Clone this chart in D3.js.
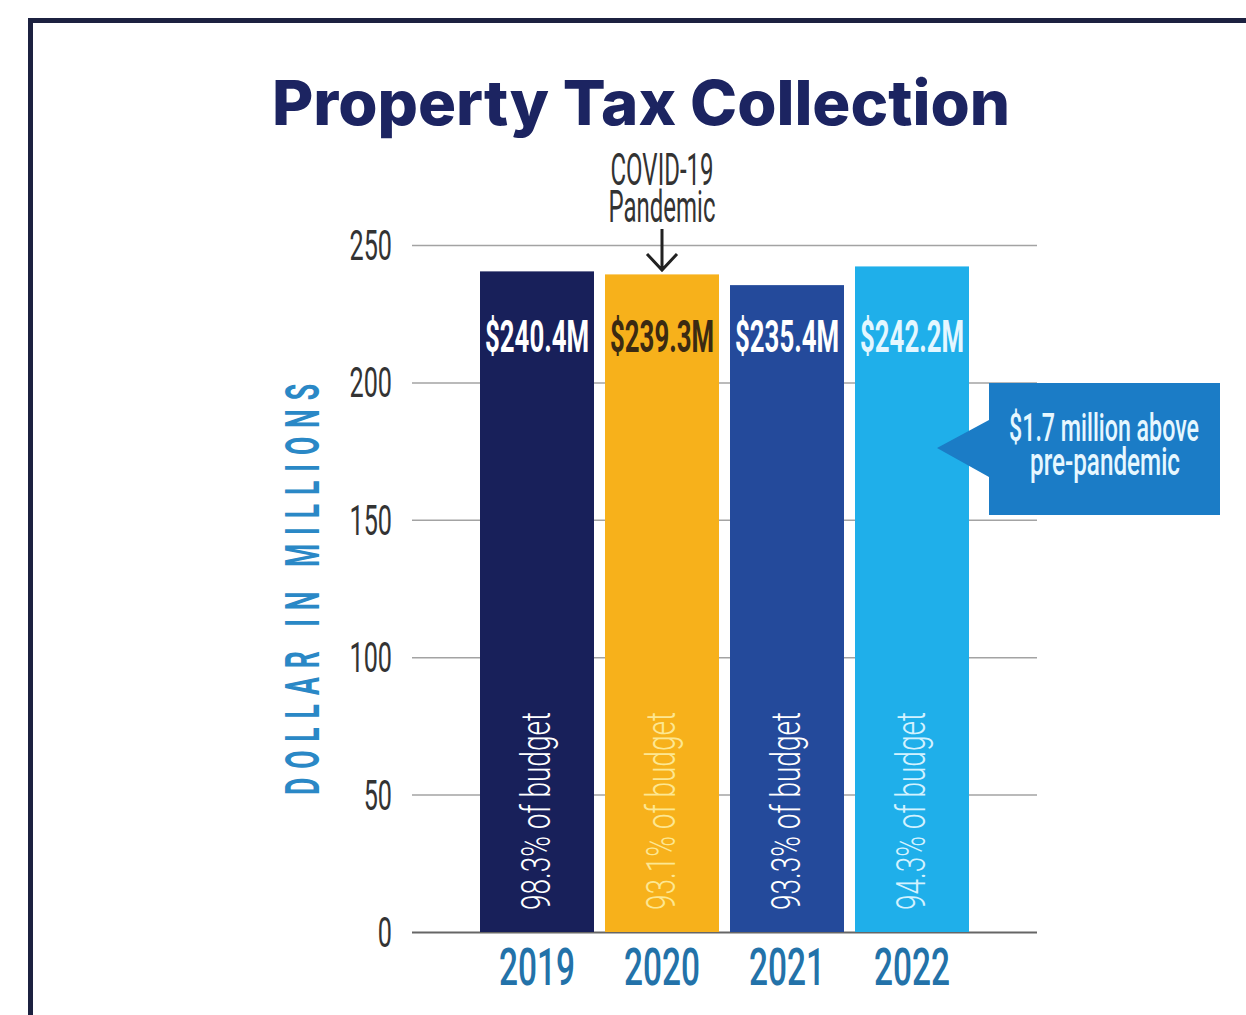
<!DOCTYPE html>
<html>
<head>
<meta charset="utf-8">
<script src="https://cdn.jsdelivr.net/npm/d3@7"></script>
<style>
  html, body { margin: 0; padding: 0; background: #ffffff; }
  svg { display: block; }
</style>
</head>
<body>
<svg id="chart" width="1246" height="1015"></svg>
<script>
// ---- data ----
const years = ["2019", "2020", "2021", "2022"];
const values = [240.4, 239.3, 235.4, 242.2];
const valueLabels = ["$240.4M", "$239.3M", "$235.4M", "$242.2M"];
const budgetLabels = ["98.3% of budget", "93.1% of budget", "93.3% of budget", "94.3% of budget"];
const tickValues = [0, 50, 100, 150, 200, 250];
const tickLabels = ["0", "50", "100", "150", "200", "250"];
const titleText = "Property Tax Collection";
const yAxisTitle = "DOLLAR IN MILLIONS";
const covidNote = ["COVID-19", "Pandemic"];
const calloutText = ["$1.7 million above", "pre-pandemic"];

// ---- styles ----
const barColors = ["#18205a", "#f7b11b", "#244a9b", "#1fafea"];
const valueLabelColors = ["#ffffff", "#3b2a12", "#ffffff", "#e4f7ff"];
const budgetLabelColors = ["#ffffff", "#fde792", "#ffffff", "#d3f2ff"];

const svg = d3.select("#chart");
const FONT = "Roboto, 'DejaVu Sans', sans-serif";

// text fitted to a target width by horizontal scaling
function fitText(parent, px, py, str, width, opts) {
  const g = parent.append("g")
    .attr("transform", `translate(${px},${py})` + (opts.rotate ? ` rotate(${opts.rotate})` : ""));
  const t = g.append("text")
    .attr("text-anchor", opts.anchor || "middle")
    .attr("font-family", opts.family || FONT)
    .attr("font-weight", opts.weight || 400)
    .attr("font-size", opts.size)
    .attr("fill", opts.fill)
    .text(str);
  if (opts.ls) t.attr("letter-spacing", opts.ls);
  const natural = t.node().getComputedTextLength();
  const sx = width ? width / natural : (opts.sx || 1);
  t.attr("transform", `scale(${sx},1)`);
  return t;
}

// frame
svg.append("path")
  .attr("d", "M30.5,1015 L30.5,20.5 L1246,20.5")
  .attr("fill", "none").attr("stroke", "#1c2140").attr("stroke-width", 5);

// title
fitText(svg, 272, 125, titleText, 738, {
  anchor: "start", family: "Inter, 'Open Sans', sans-serif", weight: 800, size: 62, fill: "#1c2461"
});

// scales
const y = d3.scaleLinear().domain([0, 250]).range([932, 245]);
const x = d3.scaleBand().domain(years).range([474.5, 974.5])
  .paddingInner(0.088).paddingOuter(0.044);

// gridlines via axis
const grid = svg.append("g").attr("transform", "translate(412,0)")
  .call(d3.axisLeft(y).tickValues(tickValues).tickSize(-(1037 - 412)).tickFormat(""));
grid.select(".domain").remove();
grid.selectAll(".tick line")
  .attr("stroke", d => d === 0 ? "#666666" : "#a3a3a3")
  .attr("stroke-width", d => d === 0 ? 2 : 1.5);

// tick labels
tickValues.forEach((v, i) => {
  fitText(svg, 392, y(v) + 15, tickLabels[i], null, { anchor: "end", size: 42, sx: 0.6, fill: "#333333" });
});

// y axis title (letter-spaced, condensed)
fitText(svg, 319, 795, yAxisTitle, 420, {
  anchor: "start", rotate: -90, weight: 700, size: 48, ls: 16, fill: "#2a88c6"
});

// bars
svg.selectAll("rect.bar").data(years).enter().append("rect")
  .attr("class", "bar")
  .attr("x", d => x(d)).attr("width", x.bandwidth())
  .attr("y", (d, i) => y(values[i]))
  .attr("height", (d, i) => y(0) - y(values[i]))
  .attr("fill", (d, i) => barColors[i]);

years.forEach((yr, i) => {
  const bx = x(yr) + x.bandwidth() / 2;
  // value labels
  fitText(svg, bx, 352, valueLabels[i], 104, { weight: 700, size: 45, fill: valueLabelColors[i] });
  // budget labels (vertical)
  fitText(svg, bx + 13, 910, budgetLabels[i], 198, {
    anchor: "start", rotate: -90, weight: 300, size: 40, fill: budgetLabelColors[i]
  });
  // year labels
  fitText(svg, bx, 985, yr, 76, { weight: 500, size: 52, fill: "#2372a9" });
});

// COVID note + arrow
const cx = x("2020") + x.bandwidth() / 2;
fitText(svg, cx, 185, covidNote[0], 103, { size: 45, fill: "#333333" });
fitText(svg, cx, 222, covidNote[1], 107, { size: 45, fill: "#333333" });
svg.append("path")
  .attr("d", `M${cx},229 L${cx},270 M${cx - 15},254 L${cx},270 L${cx + 15},254`)
  .attr("fill", "none").attr("stroke", "#222222").attr("stroke-width", 3);

// callout
const cg = svg.append("g");
cg.append("path")
  .attr("d", "M989,383 L1220,383 L1220,515 L989,515 L989,477 L937,448 L989,420 Z")
  .attr("fill", "#1b7cc6");
fitText(cg, 1104, 441, calloutText[0], 190, { weight: 500, size: 38, fill: "#e6f7ff" });
fitText(cg, 1105, 475, calloutText[1], 150, { weight: 500, size: 38, fill: "#e6f7ff" });
</script>
</body>
</html>
